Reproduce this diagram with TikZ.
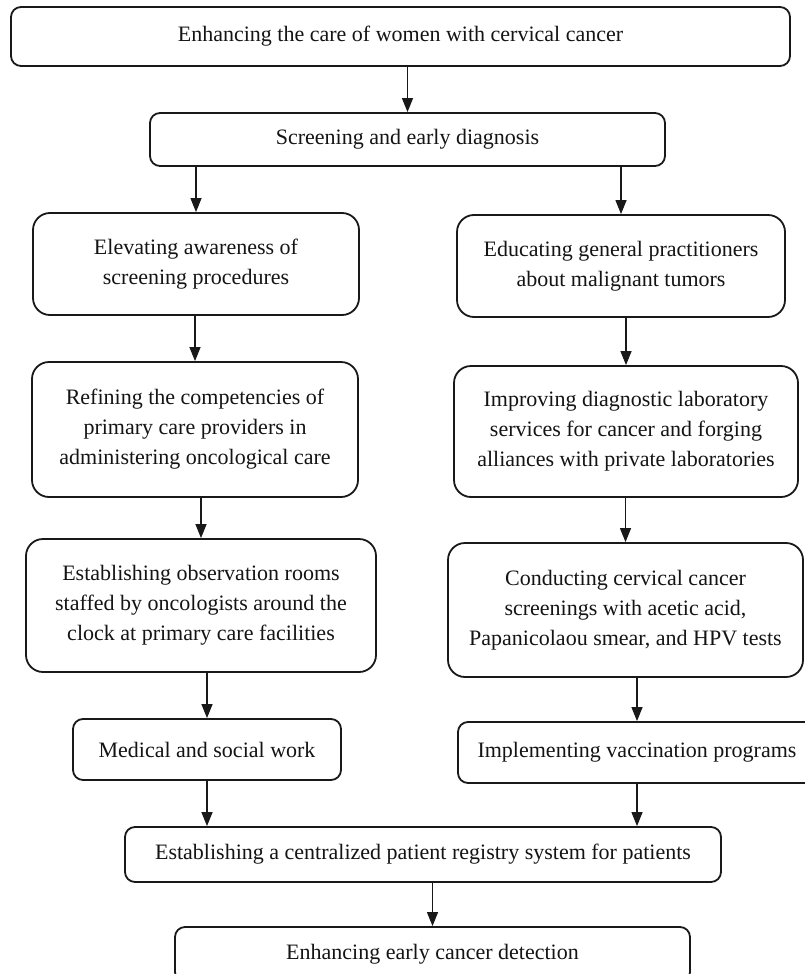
\documentclass[tikz,border=0pt]{standalone}
\usepackage{fontspec}
\setmainfont{Liberation Serif}
\usepackage{tikz}
\usetikzlibrary{arrows.meta}
\definecolor{boxline}{RGB}{25,25,25}
\definecolor{txtdark}{RGB}{20,20,20}
\tikzset{
  box/.style={rectangle, draw=boxline, fill=white, align=center, line width=1.8pt,
    rounded corners=10pt, inner sep=0pt, text=txtdark, font=\fontsize{22}{30}\selectfont},
  tallbox/.style={box, rounded corners=17pt},
  arrow/.style={-{Triangle[length=14pt,width=11pt]}, line width=1.2pt, color=boxline}
}

\begin{document}
\begin{tikzpicture}[x=1pt, y=-1pt]
\useasboundingbox (0,0) rectangle (805,974);
\clip (0,0) rectangle (805,974);

% top of the chart
\node[box, minimum width=779pt, minimum height=59pt] (care) at (400.5,36.5)
  {Enhancing the care of women with cervical cancer};
\node[box, minimum width=515pt, minimum height=53pt] (screen) at (407.5,139.5)
  {Screening and early diagnosis};

% left column
\node[tallbox, minimum width=326pt, minimum height=102pt] (aware) at (196,264)
  {Elevating awareness of\\screening procedures};
\node[tallbox, minimum width=326pt, minimum height=135pt] (refine) at (195,429.5)
  {Refining the competencies of\\primary care providers in\\administering oncological care};
\node[tallbox, minimum width=350pt, minimum height=133pt] (rooms) at (201,605.5)
  {Establishing observation rooms\\staffed by oncologists around the\\clock at primary care facilities};
\node[box, minimum width=268pt, minimum height=61pt] (social) at (207,749.5)
  {Medical and social work};

% right column
\node[tallbox, minimum width=328pt, minimum height=102pt] (educ) at (621,266)
  {Educating general practitioners\\about malignant tumors};
\node[tallbox, minimum width=344pt, minimum height=131pt] (labs) at (626,431.5)
  {Improving diagnostic laboratory\\services for cancer and forging\\alliances with private laboratories};
\node[tallbox, minimum width=355pt, minimum height=134pt] (tests) at (625.5,610)
  {Conducting cervical cancer\\screenings with acetic acid,\\Papanicolaou smear, and HPV tests};
\node[box, minimum width=358pt, minimum height=61pt] (vacc) at (637,752.5)
  {Implementing vaccination programs};

% bottom of the chart
\node[box, minimum width=596pt, minimum height=55pt] (registry) at (423,854.5)
  {Establishing a centralized patient registry system for patients};
\node[box, minimum width=515pt, minimum height=55pt] (detect) at (432.5,954.5)
  {Enhancing early cancer detection};

% connectors
\draw[arrow] (care.south -| screen.north) -- (screen.north);
\draw[arrow] (screen.south -| aware.north) -- (aware.north);
\draw[arrow] (screen.south -| educ.north) -- (educ.north);
\draw[arrow] (aware.south -| refine.north) -- (refine.north);
\draw[arrow] (refine.south -| rooms.north) -- (rooms.north);
\draw[arrow] (rooms.south -| social.north) -- (social.north);
\draw[arrow] (educ.south -| labs.north) -- (labs.north);
\draw[arrow] (labs.south -| tests.north) -- (tests.north);
\draw[arrow] (tests.south -| vacc.north) -- (vacc.north);
\draw[arrow] (social.south) -- (social.south |- registry.north);
\draw[arrow] (vacc.south) -- (vacc.south |- registry.north);
\draw[arrow] (registry.south -| detect.north) -- (detect.north);
\end{tikzpicture}
\end{document}
